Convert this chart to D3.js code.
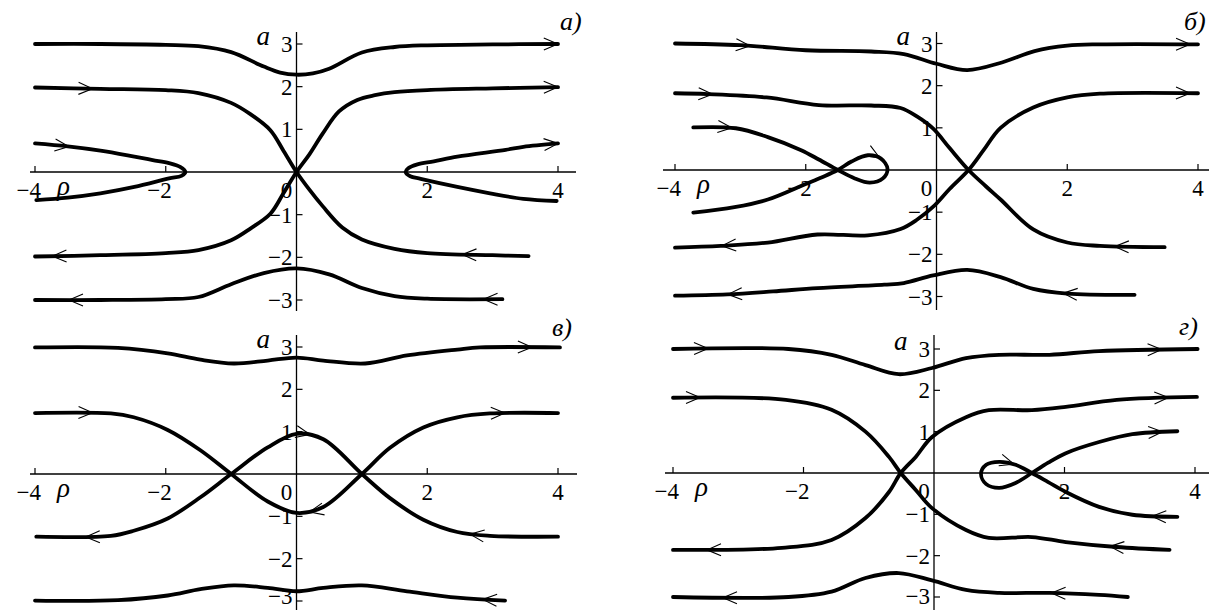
<!DOCTYPE html>
<html>
<head>
<meta charset="utf-8">
<script src="https://cdn.jsdelivr.net/npm/d3@7"></script>
<style>
  html, body { margin: 0; padding: 0; background: #fff; }
  svg { display: block; }
</style>
</head>
<body>
<svg id="chart" width="1209" height="610"></svg>
<script>
"use strict";

// ticks and panel names
var rhoTicks = [ -4, -2, 2, 4 ];
var aTicks = [ -3, -2, -1, 1, 2, 3 ];
var panelNames = [ "а)", "б)", "в)", "г)" ];

// panel а : trajectories as [rho, a]
var curvesA = [
  [ [-4,3.0],[-3,3.0],[-2,2.98],[-1.5,2.95],[-1,2.81],[-0.5,2.47],[-0.25,2.33],[0,2.28],[0.25,2.31],[0.5,2.42],[1,2.8],[1.5,2.93],[2,2.97],[3,2.99],[4,3.0] ],
  [ [-4,1.98],[-3,1.95],[-2,1.92],[-1.5,1.85],[-1,1.62],[-0.7,1.35],[-0.4,0.98],[-0.2,0.5],[0,0],[0.2,-0.42],[0.4,-0.8],[0.7,-1.3],[1,-1.58],[1.5,-1.8],[2,-1.9],[3,-1.95],[3.55,-1.97] ],
  [ [-4,-1.98],[-3,-1.95],[-2,-1.9],[-1.5,-1.83],[-1,-1.6],[-0.7,-1.32],[-0.4,-0.98],[-0.2,-0.5],[0,0],[0.2,0.42],[0.4,0.9],[0.65,1.42],[0.93,1.69],[1.2,1.8],[1.5,1.87],[2,1.92],[3,1.96],[4,1.99] ],
  [ [-4,0.67],[-3.5,0.6],[-3,0.5],[-2.48,0.36],[-2.2,0.28],[-1.95,0.21],[-1.78,0.12],[-1.7,0],[-1.76,-0.09],[-1.95,-0.15],[-2.48,-0.35],[-3,-0.5],[-3.5,-0.6],[-3.98,-0.66] ],
  [ [4,0.67],[3.47,0.59],[3.2,0.52],[2.46,0.36],[2.1,0.25],[1.85,0.18],[1.71,0.09],[1.67,0],[1.74,-0.1],[1.9,-0.16],[2.46,-0.35],[2.96,-0.5],[3.47,-0.63],[3.98,-0.68] ],
  [ [-4,-3.0],[-3,-3.0],[-2,-2.98],[-1.5,-2.93],[-1,-2.63],[-0.5,-2.37],[0,-2.26],[0.5,-2.4],[1,-2.72],[1.5,-2.91],[2,-2.97],[3.15,-2.98] ]
];
// arrows : [curve, rho, a, direction]
var arrowsA = [
  [0, 4.0, 3.0, 1], [1, -3.12, 1.95, 1], [1, 2.54, -1.93, -1],
  [2, -3.73, -1.97, -1], [2, 4.0, 1.99, 1], [3, -3.48, 0.6, 1],
  [4, 4.0, 0.67, 1], [5, -3.48, -3.0, -1], [5, 2.86, -2.98, -1]
];

// panel б
var curvesB = [
  [ [-4,3.0],[-3,2.96],[-2,2.84],[-1,2.81],[-0.5,2.75],[0,2.52],[0.47,2.37],[1,2.55],[1.5,2.82],[2,2.95],[2.5,2.98],[4,2.98] ],
  [ [-4,1.82],[-3.5,1.8],[-2.6,1.72],[-1.8,1.54],[-1,1.53],[-0.55,1.47],[-0.3,1.27],[-0.05,0.98],[0.2,0.52],[0.49,0],[0.75,-0.38],[0.98,-0.7],[1.48,-1.41],[2,-1.72],[2.5,-1.8],[3.49,-1.83] ],
  [ [-4,-1.84],[-3.3,-1.8],[-2.58,-1.72],[-1.82,-1.53],[-1.05,-1.55],[-0.55,-1.4],[-0.3,-1.18],[-0.05,-0.87],[0.2,-0.45],[0.49,0],[0.72,0.47],[0.98,1.0],[1.48,1.48],[2,1.72],[2.5,1.81],[4,1.82] ],
  [ [-3.72,1.01],[-3.07,0.99],[-2.58,0.78],[-2.07,0.47],[-1.8,0.25],[-1.51,0],[-1.25,-0.2],[-1.02,-0.3],[-0.82,-0.2],[-0.75,0.03],[-0.85,0.27],[-1.05,0.35],[-1.3,0.2],[-1.51,0],[-1.75,-0.17],[-2.0,-0.33],[-2.58,-0.7],[-3.09,-0.88],[-3.72,-1.01] ],
  [ [-4,-2.98],[-3.2,-2.95],[-2.5,-2.88],[-1.82,-2.8],[-0.8,-2.72],[-0.5,-2.68],[-0.05,-2.5],[0.47,-2.37],[0.98,-2.54],[1.48,-2.82],[2,-2.93],[3.03,-2.96] ]
];
var arrowsB = [
  [0, -2.85, 2.95, 1], [0, 3.88, 2.98, 1], [1, -3.43, 1.8, 1],
  [1, 2.73, -1.8, -1], [2, -3.28, -1.8, -1], [2, 3.88, 1.82, 1],
  [3, -3.13, 0.98, 1], [3, -0.87, 0.3, 1], [4, -3.19, -2.93, -1],
  [4, 1.94, -2.93, -1]
];

// panel в
var curvesC = [
  [ [-4,2.99],[-2.73,2.98],[-1.97,2.85],[-1.47,2.7],[-0.96,2.61],[-0.44,2.68],[0,2.75],[0.41,2.68],[1.05,2.61],[1.69,2.8],[2.46,2.94],[2.81,2.99],[4.03,2.99] ],
  [ [-4,1.44],[-2.84,1.43],[-2.49,1.34],[-1.97,1.04],[-1.47,0.56],[-1.0,0],[-0.44,-0.65],[0,-0.92],[0.41,-0.78],[1.0,0],[1.43,0.62],[1.94,1.1],[2.46,1.34],[2.96,1.43],[4,1.44] ],
  [ [-3.98,-1.48],[-2.84,-1.46],[-2.49,-1.34],[-1.97,-1.05],[-1.47,-0.55],[-1.0,0],[-0.44,0.63],[0,0.95],[0.41,0.82],[1.0,0],[1.43,-0.57],[1.94,-1.08],[2.46,-1.37],[2.96,-1.46],[4,-1.48] ],
  [ [-4,-2.99],[-2.73,-2.98],[-1.97,-2.87],[-1.47,-2.72],[-0.96,-2.63],[-0.44,-2.69],[0,-2.77],[0.41,-2.69],[1.0,-2.63],[1.69,-2.77],[2.46,-2.92],[3.19,-2.99] ]
];
var arrowsC = [
  [0, 3.6, 2.99, 1], [1, -3.12, 1.44, 1], [1, 3.19, 1.43, 1],
  [2, -3.22, -1.48, -1], [2, 2.66, -1.4, -1], [2, 0.2, 0.9, 1],
  [1, 0.2, -0.88, -1], [3, 2.85, -2.97, -1]
];

// panel г
var curvesD = [
  [ [-4,3.0],[-2.23,3.0],[-1.57,2.86],[-1.05,2.61],[-0.54,2.39],[-0.03,2.54],[0.49,2.78],[1.0,2.86],[1.77,2.86],[2.53,2.95],[4.04,3.0] ],
  [ [-4,1.82],[-2.27,1.77],[-1.57,1.53],[-1.05,1.0],[-0.69,0.39],[-0.51,0],[-0.28,-0.41],[-0.03,-0.85],[0.49,-1.38],[0.84,-1.57],[1.5,-1.55],[2.02,-1.67],[2.8,-1.79],[3.61,-1.86] ],
  [ [-4,-1.86],[-2.33,-1.81],[-1.57,-1.62],[-1.05,-1.09],[-0.69,-0.46],[-0.51,0],[-0.28,0.39],[-0.03,0.87],[0.49,1.35],[0.84,1.52],[1.5,1.52],[2.02,1.6],[2.8,1.77],[4.03,1.84] ],
  [ [3.73,1.01],[3.04,0.94],[2.53,0.75],[2.02,0.48],[1.75,0.25],[1.5,0],[1.25,-0.24],[1.0,-0.36],[0.8,-0.27],[0.72,-0.02],[0.8,0.2],[1.0,0.27],[1.25,0.2],[1.5,0],[1.75,-0.22],[2.02,-0.46],[2.53,-0.82],[3.04,-1.01],[3.73,-1.06] ],
  [ [-4,-3.0],[-2.23,-3.0],[-1.57,-2.87],[-1.05,-2.54],[-0.54,-2.42],[-0.03,-2.6],[0.49,-2.83],[1.0,-2.9],[1.77,-2.9],[2.53,-2.95],[2.97,-3.0] ]
];
var arrowsD = [
  [0, -3.46, 3.0, 1], [0, 3.49, 2.98, 1], [1, -3.59, 1.82, 1],
  [1, 2.7, -1.78, -1], [2, -3.48, -1.86, -1], [2, 3.59, 1.82, 1],
  [3, 3.5, 1.0, 1], [3, 3.34, -1.04, -1], [3, 1.22, 0.2, 1],
  [4, -3.23, -3.0, -1], [4, 1.8, -2.9, -1]
];

// where each panel sits on the page
var frames = [
  { px: [35, 558], py: [300, 44], axX: [30, 576], axY: [32, 311], name: [560, 30] },
  { px: [675, 1198], py: [296.5, 43.5], axX: [663, 1209], axY: [32, 310], name: [1184, 30] },
  { px: [35, 558], py: [601, 347], axX: [30, 577], axY: [335, 612], name: [552, 336] },
  { px: [673, 1195], py: [597, 349], axX: [665, 1209], axY: [335, 612], name: [1179, 335] }
];

var FONT = "'Liberation Serif', 'DejaVu Serif', serif";
var svg = d3.select("#chart");

function chevron( node, x, y, spec ) {
  var total = node.getTotalLength();
  var tx = x(spec[1]), ty = y(spec[2]);
  var best = 0, bd = Infinity;
  for (var l = 0; l <= total; l += 0.5) {
    var p = node.getPointAtLength(l);
    var d = (p.x - tx) * (p.x - tx) + (p.y - ty) * (p.y - ty);
    if (d < bd) { bd = d; best = l; }
  }
  var p0 = node.getPointAtLength(Math.max(0, best - 4));
  var p1 = node.getPointAtLength(Math.min(total, best + 4));
  var ang = Math.atan2(p1.y - p0.y, p1.x - p0.x);
  if ((Math.cos(ang) < 0) !== (spec[3] < 0)) ang += Math.PI;
  var tip = node.getPointAtLength(best);
  var len = 14, half = 6;
  var c = Math.cos(ang), s = Math.sin(ang);
  var b1 = [ tip.x - len * c - half * s, tip.y - len * s + half * c ];
  var b2 = [ tip.x - len * c + half * s, tip.y - len * s - half * c ];
  return "M" + b1 + "L" + tip.x + "," + tip.y + "L" + b2;
}

function num( d ) { return d < 0 ? "\u2212" + Math.abs(d) : String(d) }

function panel( i, curves, arrows ) {
  var f = frames[i];
  var x = d3.scaleLinear().domain([-4, 4]).range(f.px);
  var y = d3.scaleLinear().domain([-3, 3]).range(f.py);
  var g = svg.append("g").attr("font-family", FONT);

  // axes
  g.append("line")
    .attr("x1", f.axX[0]).attr("x2", f.axX[1])
    .attr("y1", y(0)).attr("y2", y(0))
    .style("stroke", "black").style("stroke-width", 1.3);
  g.append("line")
    .attr("x1", x(0)).attr("x2", x(0))
    .attr("y1", f.axY[0]).attr("y2", f.axY[1])
    .style("stroke", "black").style("stroke-width", 1.3);

  g.selectAll("line.xt").data(rhoTicks).enter().append("line")
    .attr("class", "xt")
    .attr("x1", function(d) { return x(d) }).attr("x2", function(d) { return x(d) })
    .attr("y1", y(0)).attr("y2", y(0) - 6)
    .style("stroke", "black").style("stroke-width", 1.2);
  g.selectAll("line.yt").data(aTicks).enter().append("line")
    .attr("class", "yt")
    .attr("x1", x(0)).attr("x2", x(0) + 6)
    .attr("y1", function(d) { return y(d) }).attr("y2", function(d) { return y(d) })
    .style("stroke", "black").style("stroke-width", 1.2);

  // tick labels
  g.selectAll("text.xl").data(rhoTicks.concat([0])).enter().append("text")
    .attr("class", "xl")
    .attr("x", function(d) { return d < 0 ? x(d) + 6 : (d === 0 ? x(0) - 10 : x(d)) })
    .attr("y", y(0) + 26)
    .attr("text-anchor", function(d) { return d < 0 ? "end" : "middle" })
    .style("font-size", "23px")
    .text(num);
  g.selectAll("text.yl").data(aTicks).enter().append("text")
    .attr("class", "yl")
    .attr("x", x(0) - 4)
    .attr("y", function(d) { return Math.min(y(d) + 8, 604) })
    .attr("text-anchor", "end")
    .style("font-size", "23px")
    .text(num);

  // axis names and panel name
  g.append("text")
    .attr("x", x(0) - 40).attr("y", y(3) + 1)
    .style("font-size", "27px").style("font-style", "italic")
    .text("a");
  g.append("text")
    .attr("x", x(-4) + 22).attr("y", y(0) + 23)
    .style("font-size", "27px").style("font-style", "italic")
    .text("ρ");
  g.append("text")
    .attr("x", f.name[0]).attr("y", f.name[1])
    .style("font-size", "26px").style("font-style", "italic")
    .text(panelNames[i]);

  // trajectories
  var line = d3.line()
    .x(function(d) { return x(d[0]) })
    .y(function(d) { return y(d[1]) })
    .curve(d3.curveCatmullRom.alpha(0.5));
  var paths = g.selectAll("path.traj").data(curves).enter().append("path")
    .attr("class", "traj")
    .attr("d", line)
    .style("fill", "none").style("stroke", "black")
    .style("stroke-width", 3.8).style("stroke-linecap", "round")
    .style("stroke-linejoin", "round");

  var nodes = paths.nodes();
  g.selectAll("path.arr").data(arrows).enter().append("path")
    .attr("class", "arr")
    .attr("d", function(d) { return chevron(nodes[d[0]], x, y, d) })
    .style("fill", "none").style("stroke", "black").style("stroke-width", 1.1);
}

panel(0, curvesA, arrowsA);
panel(1, curvesB, arrowsB);
panel(2, curvesC, arrowsC);
panel(3, curvesD, arrowsD);
</script>
</body>
</html>
